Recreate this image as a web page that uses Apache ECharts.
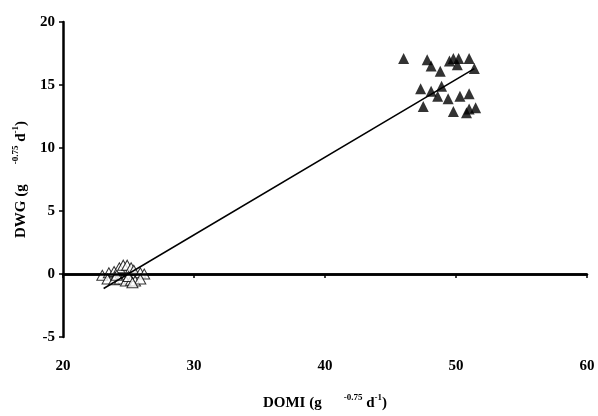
<!DOCTYPE html>
<html lang="en">
<head>
    <meta charset="UTF-8">
    <title>DWG vs DOMI</title>
    <script src="https://cdn.jsdelivr.net/npm/echarts@6/dist/echarts.min.js"></script>
    <style>
        html, body { margin: 0; padding: 0; background: #fff; }
    </style>
</head>
<body>
    <div style="width:598px;height:416px;" id="chart"></div>

    <script>
        // filled triangles (upper cluster)
        var highPoints = [
            [46.0, 17.1], [47.8, 17.0], [48.1, 16.5], [48.8, 16.1], [49.5, 16.9],
            [49.8, 17.1], [50.2, 17.1], [50.1, 16.6], [51.0, 17.1], [51.4, 16.3],
            [47.3, 14.7], [48.1, 14.5], [48.9, 14.9], [48.6, 14.1], [49.4, 13.9],
            [50.3, 14.1], [51.0, 14.3], [47.5, 13.3], [49.8, 12.9], [50.8, 12.8],
            [51.0, 13.1], [51.5, 13.2]
        ];

        // open triangles (lower cluster)
        var lowPoints = [
            [23.0, -0.1], [23.5, 0.1], [23.9, 0.2], [24.3, 0.5], [24.6, 0.7],
            [24.9, 0.7], [25.2, 0.5], [25.4, 0.3], [25.9, 0.1], [26.2, 0.0],
            [23.4, -0.4], [23.9, -0.45], [24.35, -0.4], [24.8, -0.55], [25.2, -0.5],
            [25.5, -0.55], [25.9, -0.4], [25.0, -0.2], [24.1, -0.1], [25.3, -0.7]
        ];

        // fitted line end points
        var trendLine = [[23.1, -1.15], [51.4, 16.3]];

        var xTicks = [20, 30, 40, 50, 60];
        var yTicks = [-5, 0, 5, 10, 15, 20];

        var serif = '"Liberation Serif", "Times New Roman", serif';

        var chart = echarts.init(document.getElementById('chart'));

        var option = {
            animation: false,
            backgroundColor: '#fff',
            grid: {
                left: 63,
                right: 11,
                top: 22,
                bottom: 76
            },
            xAxis: {
                type: 'value',
                min: xTicks[0],
                max: xTicks[xTicks.length - 1],
                interval: 10,
                splitLine: { show: false },
                axisLine: { lineStyle: { color: '#000', width: 2.5 } },
                axisTick: { show: true, inside: false, length: 4, lineStyle: { color: '#000', width: 1.5 } },
                axisLabel: {
                    margin: 22,
                    color: '#000',
                    fontFamily: serif,
                    fontWeight: 'bold',
                    fontSize: 15
                },
                name: '{t|DOMI (g}{gap|}{s|-0.75}{t| d}{s|-1}{t|)}',
                nameLocation: 'middle',
                nameGap: 56,
                nameTextStyle: {
                    rich: {
                        t: { fontFamily: serif, fontWeight: 'bold', fontSize: 15, color: '#000', lineHeight: 18, verticalAlign: 'bottom' },
                        s: { fontFamily: serif, fontWeight: 'bold', fontSize: 9, color: '#000', lineHeight: 18, verticalAlign: 'top' },
                        gap: { width: 22 }
                    }
                }
            },
            yAxis: {
                type: 'value',
                min: yTicks[0],
                max: yTicks[yTicks.length - 1],
                interval: 5,
                splitLine: { show: false },
                axisLine: { lineStyle: { color: '#000', width: 2.5 } },
                axisTick: { show: true, inside: false, length: 4, lineStyle: { color: '#000', width: 1.5 } },
                axisLabel: {
                    margin: 8,
                    color: '#000',
                    fontFamily: serif,
                    fontWeight: 'bold',
                    fontSize: 15
                },
                name: '{t|DWG (g}{gap|}{s|-0.75}{t| d}{s|-1}{t|)}',
                nameLocation: 'middle',
                nameGap: 34,
                nameTextStyle: {
                    rich: {
                        t: { fontFamily: serif, fontWeight: 'bold', fontSize: 15, color: '#000', lineHeight: 18, verticalAlign: 'bottom' },
                        s: { fontFamily: serif, fontWeight: 'bold', fontSize: 9, color: '#000', lineHeight: 18, verticalAlign: 'top' },
                        gap: { width: 20 }
                    }
                }
            },
            series: [
                {
                    name: 'trend',
                    type: 'line',
                    data: trendLine,
                    symbol: 'none',
                    lineStyle: { color: '#000', width: 1.5 },
                    z: 3,
                    markLine: {
                        silent: true,
                        symbol: 'none',
                        label: { show: false },
                        lineStyle: { color: '#000', width: 2.5, type: 'solid' },
                        data: [{ yAxis: 0 }]
                    }
                },
                {
                    name: 'low',
                    type: 'scatter',
                    data: lowPoints,
                    symbol: 'triangle',
                    symbolSize: [11, 10],
                    itemStyle: { color: '#fff', borderColor: '#000', borderWidth: 1 },
                    z: 2
                },
                {
                    name: 'high',
                    type: 'scatter',
                    data: highPoints,
                    symbol: 'triangle',
                    symbolSize: [11, 11],
                    itemStyle: { color: '#000' },
                    z: 4
                }
            ]
        };

        chart.setOption(option);
    </script>
</body>
</html>
